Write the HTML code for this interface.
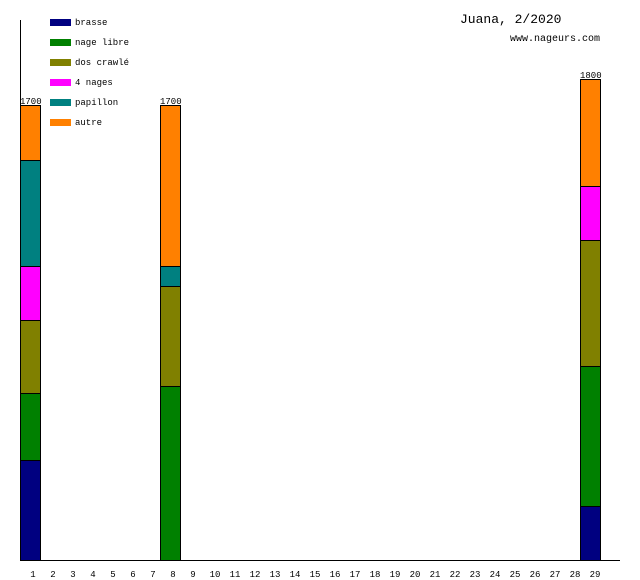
<!DOCTYPE html>
<html><head><style>
body{margin:0;background:#fff}
svg{display:block}
text{font-family:"Liberation Mono","DejaVu Sans Mono",monospace;fill:#000}
</style></head><body>
<svg width="640" height="580" viewBox="0 0 640 580">
<line x1="20.5" y1="20" x2="20.5" y2="561" stroke="#000"/>
<line x1="20" y1="560.5" x2="620" y2="560.5" stroke="#000"/>
<g stroke="#000" stroke-width="1">
<rect x="20.5" y="105.5" width="20" height="55" fill="#ff8000"/>
<rect x="20.5" y="160.5" width="20" height="106" fill="#008080"/>
<rect x="20.5" y="266.5" width="20" height="54" fill="#ff00ff"/>
<rect x="20.5" y="320.5" width="20" height="73" fill="#808000"/>
<rect x="20.5" y="393.5" width="20" height="67" fill="#008000"/>
<rect x="20.5" y="460.5" width="20" height="100" fill="#000080"/>
<rect x="160.5" y="105.5" width="20" height="161" fill="#ff8000"/>
<rect x="160.5" y="266.5" width="20" height="20" fill="#008080"/>
<rect x="160.5" y="286.5" width="20" height="100" fill="#808000"/>
<rect x="160.5" y="386.5" width="20" height="174" fill="#008000"/>
<rect x="580.5" y="79.5" width="20" height="107" fill="#ff8000"/>
<rect x="580.5" y="186.5" width="20" height="54" fill="#ff00ff"/>
<rect x="580.5" y="240.5" width="20" height="126" fill="#808000"/>
<rect x="580.5" y="366.5" width="20" height="140" fill="#008000"/>
<rect x="580.5" y="506.5" width="20" height="54" fill="#000080"/>
</g>
<g font-size="9">
<text x="20" y="104">1700</text><text x="160" y="104">1700</text><text x="580" y="78">1800</text>
</g>
<rect x="50" y="19" width="21" height="7" fill="#000080"/>
<rect x="50" y="39" width="21" height="7" fill="#008000"/>
<rect x="50" y="59" width="21" height="7" fill="#808000"/>
<rect x="50" y="79" width="21" height="7" fill="#ff00ff"/>
<rect x="50" y="99" width="21" height="7" fill="#008080"/>
<rect x="50" y="119" width="21" height="7" fill="#ff8000"/>
<g font-size="9">
<text x="75" y="25">brasse</text><text x="75" y="45">nage libre</text><text x="75" y="65">dos crawlé</text>
<text x="75" y="85">4 nages</text><text x="75" y="105">papillon</text><text x="75" y="125">autre</text>
</g>
<text x="460" y="23" font-size="13">Juana, 2/2020</text>
<text x="510" y="41" font-size="10">www.nageurs.com</text>
<g font-size="9" text-anchor="middle">
<text x="33" y="577">1</text><text x="53" y="577">2</text><text x="73" y="577">3</text><text x="93" y="577">4</text><text x="113" y="577">5</text><text x="133" y="577">6</text><text x="153" y="577">7</text><text x="173" y="577">8</text><text x="193" y="577">9</text><text x="215" y="577">10</text><text x="235" y="577">11</text><text x="255" y="577">12</text><text x="275" y="577">13</text><text x="295" y="577">14</text><text x="315" y="577">15</text><text x="335" y="577">16</text><text x="355" y="577">17</text><text x="375" y="577">18</text><text x="395" y="577">19</text><text x="415" y="577">20</text><text x="435" y="577">21</text><text x="455" y="577">22</text><text x="475" y="577">23</text><text x="495" y="577">24</text><text x="515" y="577">25</text><text x="535" y="577">26</text><text x="555" y="577">27</text><text x="575" y="577">28</text><text x="595" y="577">29</text>
</g>
</svg>
</body></html>
